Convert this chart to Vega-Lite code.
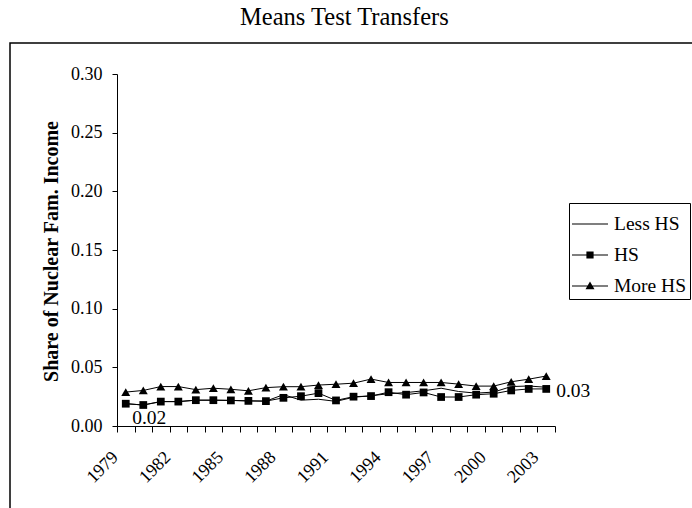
{
  "$schema": "https://vega.github.io/schema/vega-lite/v6.json",
  "width": 686,
  "height": 469,
  "autosize": {"type": "none"},
  "padding": {"left": 10, "top": 43, "right": -4, "bottom": -4},
  "background": "white",
  "title": {"text": "Means Test Transfers", "font": "Liberation Serif", "fontSize": 24.5, "fontWeight": "normal", "color": "black", "offset": 13, "anchor": "start", "frame": "group", "dx": 230},
  "config": {
    "view": {"stroke": "black", "strokeWidth": 1.5},
    "axis": {"grid": false, "domainColor": "black", "domainWidth": 1, "tickColor": "black", "tickWidth": 1, "labelColor": "black", "labelFont": "Liberation Serif", "labelFontSize": 18, "titleColor": "black", "titleFont": "Liberation Serif"}
  },
  "datasets": {
    "series": [
      {"year": 1979, "series": "Less HS", "value": 0.0190}, {"year": 1979, "series": "HS", "value": 0.0190}, {"year": 1979, "series": "More HS", "value": 0.0289},
      {"year": 1980, "series": "Less HS", "value": 0.0179}, {"year": 1980, "series": "HS", "value": 0.0179}, {"year": 1980, "series": "More HS", "value": 0.0303},
      {"year": 1981, "series": "Less HS", "value": 0.0208}, {"year": 1981, "series": "HS", "value": 0.0208}, {"year": 1981, "series": "More HS", "value": 0.0336},
      {"year": 1982, "series": "Less HS", "value": 0.0208}, {"year": 1982, "series": "HS", "value": 0.0208}, {"year": 1982, "series": "More HS", "value": 0.0336},
      {"year": 1983, "series": "Less HS", "value": 0.0220}, {"year": 1983, "series": "HS", "value": 0.0220}, {"year": 1983, "series": "More HS", "value": 0.0310},
      {"year": 1984, "series": "Less HS", "value": 0.0220}, {"year": 1984, "series": "HS", "value": 0.0220}, {"year": 1984, "series": "More HS", "value": 0.0322},
      {"year": 1985, "series": "Less HS", "value": 0.0218}, {"year": 1985, "series": "HS", "value": 0.0218}, {"year": 1985, "series": "More HS", "value": 0.0313},
      {"year": 1986, "series": "Less HS", "value": 0.0214}, {"year": 1986, "series": "HS", "value": 0.0214}, {"year": 1986, "series": "More HS", "value": 0.0300},
      {"year": 1987, "series": "Less HS", "value": 0.0212}, {"year": 1987, "series": "HS", "value": 0.0212}, {"year": 1987, "series": "More HS", "value": 0.0327},
      {"year": 1988, "series": "Less HS", "value": 0.0267}, {"year": 1988, "series": "HS", "value": 0.0240}, {"year": 1988, "series": "More HS", "value": 0.0335},
      {"year": 1989, "series": "Less HS", "value": 0.0220}, {"year": 1989, "series": "HS", "value": 0.0254}, {"year": 1989, "series": "More HS", "value": 0.0335},
      {"year": 1990, "series": "Less HS", "value": 0.0228}, {"year": 1990, "series": "HS", "value": 0.0280}, {"year": 1990, "series": "More HS", "value": 0.0349},
      {"year": 1991, "series": "Less HS", "value": 0.0210}, {"year": 1991, "series": "HS", "value": 0.0218}, {"year": 1991, "series": "More HS", "value": 0.0356},
      {"year": 1992, "series": "Less HS", "value": 0.0245}, {"year": 1992, "series": "HS", "value": 0.0250}, {"year": 1992, "series": "More HS", "value": 0.0365},
      {"year": 1993, "series": "Less HS", "value": 0.0258}, {"year": 1993, "series": "HS", "value": 0.0255}, {"year": 1993, "series": "More HS", "value": 0.0400},
      {"year": 1994, "series": "Less HS", "value": 0.0275}, {"year": 1994, "series": "HS", "value": 0.0288}, {"year": 1994, "series": "More HS", "value": 0.0371},
      {"year": 1995, "series": "Less HS", "value": 0.0285}, {"year": 1995, "series": "HS", "value": 0.0267}, {"year": 1995, "series": "More HS", "value": 0.0371},
      {"year": 1996, "series": "Less HS", "value": 0.0300}, {"year": 1996, "series": "HS", "value": 0.0286}, {"year": 1996, "series": "More HS", "value": 0.0371},
      {"year": 1997, "series": "Less HS", "value": 0.0322}, {"year": 1997, "series": "HS", "value": 0.0247}, {"year": 1997, "series": "More HS", "value": 0.0371},
      {"year": 1998, "series": "Less HS", "value": 0.0294}, {"year": 1998, "series": "HS", "value": 0.0247}, {"year": 1998, "series": "More HS", "value": 0.0357},
      {"year": 1999, "series": "Less HS", "value": 0.0280}, {"year": 1999, "series": "HS", "value": 0.0267}, {"year": 1999, "series": "More HS", "value": 0.0340},
      {"year": 2000, "series": "Less HS", "value": 0.0289}, {"year": 2000, "series": "HS", "value": 0.0275}, {"year": 2000, "series": "More HS", "value": 0.0340},
      {"year": 2001, "series": "Less HS", "value": 0.0336}, {"year": 2001, "series": "HS", "value": 0.0303}, {"year": 2001, "series": "More HS", "value": 0.0377},
      {"year": 2002, "series": "Less HS", "value": 0.0341}, {"year": 2002, "series": "HS", "value": 0.0316}, {"year": 2002, "series": "More HS", "value": 0.0399},
      {"year": 2003, "series": "Less HS", "value": 0.0330}, {"year": 2003, "series": "HS", "value": 0.0316}, {"year": 2003, "series": "More HS", "value": 0.0426}
    ],
    "labelLow": [{"year": 1980, "value": 0.0179, "label": "0.02"}],
    "labelEnd": [{"year": 2003, "value": 0.0316, "label": "0.03"}]
  },
  "data": {"name": "series"},
  "encoding": {
    "x": {
      "field": "year",
      "type": "ordinal",
      "scale": {"type": "band", "range": [107, 545], "paddingInner": 0, "paddingOuter": 0},
      "axis": {
        "title": null,
        "offset": -86,
        "labelAngle": -45,
        "tickBand": "extent",
        "tickSize": 6,
        "labelPadding": 16,
        "labelOffset": -17,
        "labelExpr": "(toNumber(datum.value) - 1979) % 3 == 0 ? datum.label : ''"
      }
    },
    "y": {
      "field": "value",
      "type": "quantitative",
      "scale": {"domain": [0, 0.3], "range": [383, 31], "nice": false},
      "axis": {
        "offset": -107,
        "values": [0, 0.05, 0.1, 0.15, 0.2, 0.25, 0.3],
        "format": ".2f",
        "tickSize": 5,
        "labelPadding": 10,
        "title": "Share of Nuclear Fam. Income",
        "titleFontWeight": "bold",
        "titleFontSize": 20,
        "titlePadding": 9,
        "titleY": 208
      }
    }
  },
  "layer": [
    {
      "mark": {"type": "line", "color": "black", "strokeWidth": 1},
      "encoding": {"detail": {"field": "series", "type": "nominal"}}
    },
    {
      "transform": [{"filter": "datum.series == 'HS'"}],
      "mark": {"type": "point", "shape": "square", "filled": true, "color": "black", "size": 60, "opacity": 1}
    },
    {
      "transform": [{"filter": "datum.series == 'More HS'"}],
      "mark": {"type": "point", "shape": "triangle-up", "filled": true, "color": "black", "size": 80, "opacity": 1}
    },
    {
      "mark": {"type": "point", "filled": true, "fill": "black", "opacity": 0},
      "encoding": {
        "shape": {
          "field": "series",
          "type": "nominal",
          "scale": {
            "domain": ["Less HS", "HS", "More HS"],
            "range": [
              "M-1,-0.03H1V0.03H-1Z",
              "M-1,-0.03H1V0.03H-1ZM-0.2,-0.2H0.2V0.2H-0.2Z",
              "M-1,-0.03H1V0.03H-1ZM0,-0.25L0.25,0.18H-0.25Z"
            ]
          },
          "legend": {
            "title": null,
            "orient": "none",
            "legendX": 559,
            "legendY": 160,
            "strokeColor": "black",
            "fillColor": "white",
            "padding": 3,
            "labelFont": "Liberation Serif",
            "labelFontSize": 19.5,
            "labelColor": "black",
            "labelOffset": 6,
            "symbolSize": 1296,
            "symbolFillColor": "black",
            "symbolStrokeWidth": 0,
            "symbolOpacity": 1,
            "rowPadding": 3
          }
        }
      }
    },
    {
      "data": {"name": "labelLow"},
      "mark": {"type": "text", "font": "Liberation Serif", "fontSize": 19.5, "color": "black", "align": "center", "baseline": "middle", "dx": 6, "dy": 13.5},
      "encoding": {"text": {"field": "label", "type": "nominal"}}
    },
    {
      "data": {"name": "labelEnd"},
      "mark": {"type": "text", "font": "Liberation Serif", "fontSize": 19.5, "color": "black", "align": "left", "baseline": "middle", "dx": 10, "dy": 2},
      "encoding": {"text": {"field": "label", "type": "nominal"}}
    }
  ]
}
